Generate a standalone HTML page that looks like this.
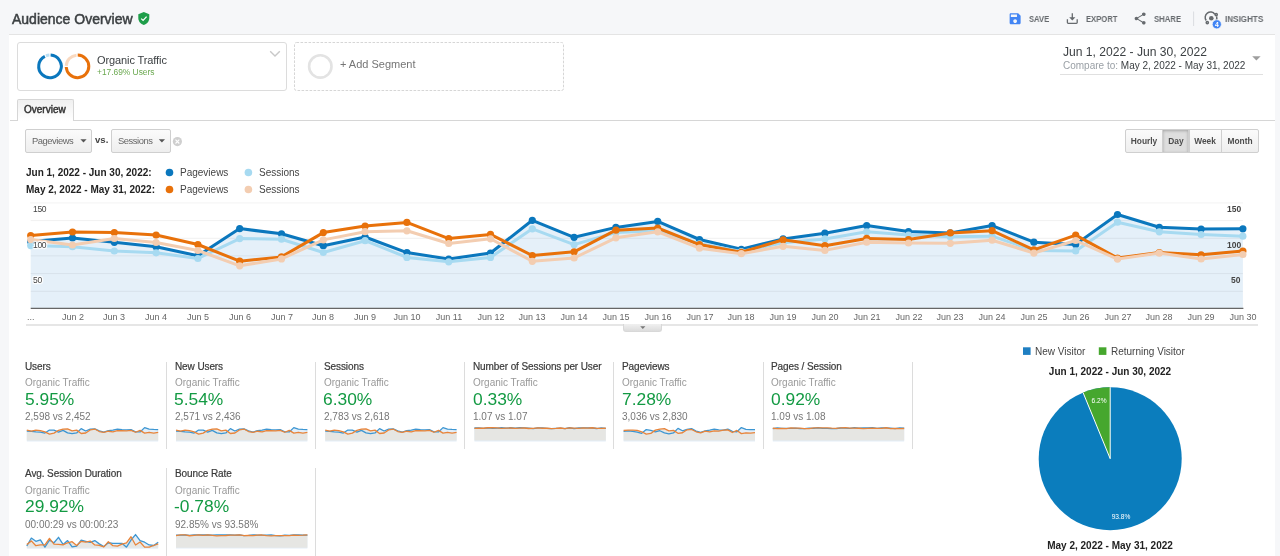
<!DOCTYPE html>
<html><head><meta charset="utf-8"><title>Audience Overview</title>
<style>
*{box-sizing:border-box;margin:0;padding:0}
html,body{width:1280px;height:556px;overflow:hidden;background:#f6f7f9;
 font-family:"Liberation Sans",Arial,Helvetica,sans-serif;}
.t{position:absolute;white-space:nowrap;line-height:1;will-change:transform}
.abs{position:absolute}
svg.full{position:absolute;left:0;top:0}
</style></head><body>
<div class="abs" style="left:9px;top:34px;width:1266px;height:530px;background:#fff;border-top:1px solid #e4e4e4"></div>
<div class="abs" style="left:17px;top:42px;width:270px;height:49px;border:1px solid #dcdcdc;border-radius:3px"></div>
<div class="abs" style="left:9.5px;top:120px;width:1265px;height:1px;background:#d6d6d6"></div>
<div class="abs" style="left:17px;top:99px;width:57px;height:22px;border:1px solid #d6d6d6;border-bottom:none;border-radius:2px 2px 0 0;background:linear-gradient(#f0f0f0,#fff)"></div>
<div style="position:absolute;top:129.4px;height:23.2px;border:1px solid #cfcfcf;border-radius:2px;background:linear-gradient(#fbfbfb,#eeeeee);left:25.3px;width:66.4px"></div>
<div style="position:absolute;top:129.4px;height:23.2px;border:1px solid #cfcfcf;border-radius:2px;background:linear-gradient(#fbfbfb,#eeeeee);left:111.4px;width:59.3px"></div>
<div style="position:absolute;top:129.4px;height:23.2px;border:1px solid #cfcfcf;background:linear-gradient(#fbfbfb,#eeeeee);left:1125px;width:37.5px;border-radius:2px 0 0 2px"></div>
<div style="position:absolute;top:129.4px;height:23.2px;border:1px solid #cfcfcf;background:linear-gradient(#fbfbfb,#eeeeee);left:1161.8px;width:27.3px;background:#dedede;box-shadow:inset 0 1px 3px rgba(0,0,0,.25)"></div>
<div style="position:absolute;top:129.4px;height:23.2px;border:1px solid #cfcfcf;background:linear-gradient(#fbfbfb,#eeeeee);left:1188.6px;width:33px"></div>
<div style="position:absolute;top:129.4px;height:23.2px;border:1px solid #cfcfcf;background:linear-gradient(#fbfbfb,#eeeeee);left:1221.2px;width:37.4px;border-radius:0 2px 2px 0"></div>
<div class="abs" style="left:26px;top:324px;width:1232px;height:1.5px;background:#e6e6e6"></div>
<div class="abs" style="left:623.2px;top:324.3px;width:38.8px;height:7.6px;border-radius:0 0 3px 3px;background:linear-gradient(#f0f0f0,#dcdcdc);border:1px solid #d8d8d8;border-top:none"></div>
<div class="abs" style="left:165.8px;top:361.7px;width:1px;height:87px;background:#dcdcdc"></div>
<div class="abs" style="left:315.0px;top:361.7px;width:1px;height:87px;background:#dcdcdc"></div>
<div class="abs" style="left:464.2px;top:361.7px;width:1px;height:87px;background:#dcdcdc"></div>
<div class="abs" style="left:613.4px;top:361.7px;width:1px;height:87px;background:#dcdcdc"></div>
<div class="abs" style="left:762.6px;top:361.7px;width:1px;height:87px;background:#dcdcdc"></div>
<div class="abs" style="left:911.8px;top:361.7px;width:1px;height:87px;background:#dcdcdc"></div>
<div class="abs" style="left:165.8px;top:467.8px;width:1px;height:90px;background:#dcdcdc"></div>
<div class="abs" style="left:315.0px;top:467.8px;width:1px;height:90px;background:#dcdcdc"></div>
<svg class="full" width="1280" height="556" viewBox="0 0 1280 556">
<g transform="translate(138.3,12)"><path d="M5.5,0 L11,2.2 V6 C11,9.3 8.6,12.1 5.5,13 C2.4,12.1 0,9.3 0,6 V2.2 Z" fill="#1e9e4a"/><path d="M2.9,6.6 L4.8,8.4 L8.3,4.6" fill="none" stroke="#fff" stroke-width="1.3"/></g>
<g transform="translate(1007.8,11.4) scale(0.611)"><path d="M17 3H5c-1.11 0-2 .9-2 2v14c0 1.1.89 2 2 2h14c1.1 0 2-.9 2-2V7l-4-4zm-5 16c-1.66 0-3-1.34-3-3s1.34-3 3-3 3 1.34 3 3-1.34 3-3 3zm3-10H5V5h10v4z" fill="#4285f4"/></g>
<g fill="none" stroke="#666a6e" stroke-width="1.3"><path d="M1072.3,13.3V18.2"/><path d="M1067.4,19.2V22.5Q1067.4,23.3 1068.2,23.3H1076.4Q1077.2,23.3 1077.2,22.5V19.2"/></g><path d="M1069.2,17.2H1075.4L1072.3,20.6Z" fill="#666a6e"/>
<g transform="translate(1132.8,11.2) scale(0.611)"><path d="M18 16.08c-.76 0-1.44.3-1.96.77L8.91 12.7c.05-.23.09-.46.09-.7s-.04-.47-.09-.7l7.05-4.11c.54.5 1.25.81 2.04.81 1.66 0 3-1.340 3-3s-1.34-3-3-3-3 1.34-3 3c0 .24.04.47.09.7L8.040 9.81C7.5 9.31 6.79 9 6 9c-1.66 0-3 1.34-3 3s1.34 3 3 3c.79 0 1.5-.31 2.04-.81l7.12 4.16c-.05.21-.08.43-.08.65 0 1.61 1.31 2.92 2.92 2.92 1.61 0 2.92-1.31 2.92-2.92s-1.31-2.92-2.92-2.92z" fill="#666a6e"/></g>
<path d="M1193.6,11.5V26" stroke="#dadce0" stroke-width="1"/>
<g fill="none" stroke="#666a6e" stroke-width="1.5"><path d="M1206.2,20.5 A5.3,5.3 0 0 1 1214.8,14.2"/><path d="M1216.6,16.4 A5.3,5.3 0 0 1 1213.5,22.6"/><circle cx="1216.2" cy="14.6" r="1.1"/><circle cx="1207.3" cy="22.6" r="1.1"/></g><circle cx="1211.3" cy="18.3" r="2.3" fill="#666a6e"/><circle cx="1216.8" cy="24.3" r="4.6" fill="#4285f4" stroke="#f6f7f9" stroke-width="0.8"/>
<path d="M50.60,55.12 A11.3,11.3 0 1 1 44.86,56.34" fill="none" stroke="#0a77bd" stroke-width="3"/><path d="M45.96,55.85 A11.3,11.3 0 0 1 49.40,55.12" fill="none" stroke="#b9def3" stroke-width="3"/>
<path d="M77.71,55.10 A11.3,11.3 0 1 1 66.22,67.00" fill="none" stroke="#e8710a" stroke-width="3"/><path d="M66.22,65.80 A11.3,11.3 0 0 1 76.51,55.14" fill="none" stroke="#f9d9c0" stroke-width="3"/>
<path d="M270.2,51.2 L275,56 L279.8,51.2" fill="none" stroke="#c8c8c8" stroke-width="1.4"/>
<rect x="294.5" y="42.5" width="269" height="48" rx="2" fill="none" stroke="#d6d6d6" stroke-width="1" stroke-dasharray="2.6 1.4"/>
<circle cx="320.3" cy="66.4" r="11.2" fill="none" stroke="#e3e3e3" stroke-width="2.6"/>
<path d="M1060,74.5H1263" stroke="#e0e0e0" stroke-width="1"/>
<path d="M1252.2,56.3H1260.6L1256.4,60.5Z" fill="#9e9e9e"/>
<path d="M80.4,139.2H86.6L83.5,142.6Z" fill="#555"/>
<path d="M158.8,139.2H165L161.9,142.6Z" fill="#555"/>
<circle cx="177.4" cy="141.6" r="4.6" fill="#cfcfcf"/><path d="M175.5,139.7L179.3,143.5M179.3,139.7L175.5,143.5" stroke="#fff" stroke-width="1.1"/>
<circle cx="169.5" cy="172.5" r="3.8" fill="#0a77bd"/><circle cx="248.4" cy="172.5" r="3.8" fill="#a7daf1"/>
<circle cx="169.5" cy="189.5" r="3.8" fill="#e8710a"/><circle cx="248.4" cy="189.5" r="3.8" fill="#f3cdb1"/>
<path d="M30.2,202.9H1243" stroke="#f3f3f3" stroke-width="1"/>
<polygon points="30.7,308 30.70,241.50 72.50,238.00 114.30,242.30 156.10,246.70 197.90,255.80 239.70,228.60 281.50,233.80 323.30,245.70 365.10,237.00 406.90,252.60 448.70,259.00 490.50,253.00 532.30,220.30 574.10,237.30 615.90,227.40 657.70,221.40 699.50,239.50 741.30,249.30 783.10,238.90 824.90,233.20 866.70,225.60 908.50,231.50 950.30,232.90 992.10,225.60 1033.90,242.20 1075.70,244.40 1117.50,214.50 1159.30,227.30 1201.10,229.00 1242.90,228.80 1242.9,308" fill="#e5f0f9"/>
<path d="M30.7,220.6H1242.9" stroke="#000" stroke-opacity="0.06" stroke-width="1"/>
<path d="M30.7,238.3H1242.9" stroke="#000" stroke-opacity="0.06" stroke-width="1"/>
<path d="M30.7,255.9H1242.9" stroke="#000" stroke-opacity="0.06" stroke-width="1"/>
<path d="M30.7,273.6H1242.9" stroke="#000" stroke-opacity="0.06" stroke-width="1"/>
<path d="M30.7,291.3H1242.9" stroke="#000" stroke-opacity="0.06" stroke-width="1"/>
<path d="M30.7,308.4H1243.4" stroke="#666" stroke-width="1.3"/>
<polyline points="30.70,241.50 72.50,238.00 114.30,242.30 156.10,246.70 197.90,255.80 239.70,228.60 281.50,233.80 323.30,245.70 365.10,237.00 406.90,252.60 448.70,259.00 490.50,253.00 532.30,220.30 574.10,237.30 615.90,227.40 657.70,221.40 699.50,239.50 741.30,249.30 783.10,238.90 824.90,233.20 866.70,225.60 908.50,231.50 950.30,232.90 992.10,225.60 1033.90,242.20 1075.70,244.40 1117.50,214.50 1159.30,227.30 1201.10,229.00 1242.90,228.80" fill="none" stroke="#0a77bd" stroke-width="3" stroke-linejoin="round"/>
<circle cx="30.7" cy="241.5" r="3.6" fill="#0a77bd"/>
<circle cx="72.5" cy="238.0" r="3.6" fill="#0a77bd"/>
<circle cx="114.3" cy="242.3" r="3.6" fill="#0a77bd"/>
<circle cx="156.1" cy="246.7" r="3.6" fill="#0a77bd"/>
<circle cx="197.9" cy="255.8" r="3.6" fill="#0a77bd"/>
<circle cx="239.7" cy="228.6" r="3.6" fill="#0a77bd"/>
<circle cx="281.5" cy="233.8" r="3.6" fill="#0a77bd"/>
<circle cx="323.3" cy="245.7" r="3.6" fill="#0a77bd"/>
<circle cx="365.1" cy="237.0" r="3.6" fill="#0a77bd"/>
<circle cx="406.9" cy="252.6" r="3.6" fill="#0a77bd"/>
<circle cx="448.7" cy="259.0" r="3.6" fill="#0a77bd"/>
<circle cx="490.5" cy="253.0" r="3.6" fill="#0a77bd"/>
<circle cx="532.3" cy="220.3" r="3.6" fill="#0a77bd"/>
<circle cx="574.1" cy="237.3" r="3.6" fill="#0a77bd"/>
<circle cx="615.9" cy="227.4" r="3.6" fill="#0a77bd"/>
<circle cx="657.7" cy="221.4" r="3.6" fill="#0a77bd"/>
<circle cx="699.5" cy="239.5" r="3.6" fill="#0a77bd"/>
<circle cx="741.3" cy="249.3" r="3.6" fill="#0a77bd"/>
<circle cx="783.1" cy="238.9" r="3.6" fill="#0a77bd"/>
<circle cx="824.9" cy="233.2" r="3.6" fill="#0a77bd"/>
<circle cx="866.7" cy="225.6" r="3.6" fill="#0a77bd"/>
<circle cx="908.5" cy="231.5" r="3.6" fill="#0a77bd"/>
<circle cx="950.3" cy="232.9" r="3.6" fill="#0a77bd"/>
<circle cx="992.1" cy="225.6" r="3.6" fill="#0a77bd"/>
<circle cx="1033.9" cy="242.2" r="3.6" fill="#0a77bd"/>
<circle cx="1075.7" cy="244.4" r="3.6" fill="#0a77bd"/>
<circle cx="1117.5" cy="214.5" r="3.6" fill="#0a77bd"/>
<circle cx="1159.3" cy="227.3" r="3.6" fill="#0a77bd"/>
<circle cx="1201.1" cy="229.0" r="3.6" fill="#0a77bd"/>
<circle cx="1242.9" cy="228.8" r="3.6" fill="#0a77bd"/>
<polyline points="30.70,245.60 72.50,246.70 114.30,251.00 156.10,252.80 197.90,258.50 239.70,238.60 281.50,239.20 323.30,252.50 365.10,240.70 406.90,257.40 448.70,261.80 490.50,257.40 532.30,228.80 574.10,244.60 615.90,232.50 657.70,230.70 699.50,243.80 741.30,251.50 783.10,242.70 824.90,238.90 866.70,231.80 908.50,235.00 950.30,236.70 992.10,236.20 1033.90,250.40 1075.70,250.90 1117.50,222.20 1159.30,231.80 1201.10,234.50 1242.90,236.20" fill="none" stroke="#a7daf1" stroke-width="3" stroke-linejoin="round"/>
<circle cx="30.7" cy="245.6" r="3.6" fill="#a7daf1"/>
<circle cx="72.5" cy="246.7" r="3.6" fill="#a7daf1"/>
<circle cx="114.3" cy="251.0" r="3.6" fill="#a7daf1"/>
<circle cx="156.1" cy="252.8" r="3.6" fill="#a7daf1"/>
<circle cx="197.9" cy="258.5" r="3.6" fill="#a7daf1"/>
<circle cx="239.7" cy="238.6" r="3.6" fill="#a7daf1"/>
<circle cx="281.5" cy="239.2" r="3.6" fill="#a7daf1"/>
<circle cx="323.3" cy="252.5" r="3.6" fill="#a7daf1"/>
<circle cx="365.1" cy="240.7" r="3.6" fill="#a7daf1"/>
<circle cx="406.9" cy="257.4" r="3.6" fill="#a7daf1"/>
<circle cx="448.7" cy="261.8" r="3.6" fill="#a7daf1"/>
<circle cx="490.5" cy="257.4" r="3.6" fill="#a7daf1"/>
<circle cx="532.3" cy="228.8" r="3.6" fill="#a7daf1"/>
<circle cx="574.1" cy="244.6" r="3.6" fill="#a7daf1"/>
<circle cx="615.9" cy="232.5" r="3.6" fill="#a7daf1"/>
<circle cx="657.7" cy="230.7" r="3.6" fill="#a7daf1"/>
<circle cx="699.5" cy="243.8" r="3.6" fill="#a7daf1"/>
<circle cx="741.3" cy="251.5" r="3.6" fill="#a7daf1"/>
<circle cx="783.1" cy="242.7" r="3.6" fill="#a7daf1"/>
<circle cx="824.9" cy="238.9" r="3.6" fill="#a7daf1"/>
<circle cx="866.7" cy="231.8" r="3.6" fill="#a7daf1"/>
<circle cx="908.5" cy="235.0" r="3.6" fill="#a7daf1"/>
<circle cx="950.3" cy="236.7" r="3.6" fill="#a7daf1"/>
<circle cx="992.1" cy="236.2" r="3.6" fill="#a7daf1"/>
<circle cx="1033.9" cy="250.4" r="3.6" fill="#a7daf1"/>
<circle cx="1075.7" cy="250.9" r="3.6" fill="#a7daf1"/>
<circle cx="1117.5" cy="222.2" r="3.6" fill="#a7daf1"/>
<circle cx="1159.3" cy="231.8" r="3.6" fill="#a7daf1"/>
<circle cx="1201.1" cy="234.5" r="3.6" fill="#a7daf1"/>
<circle cx="1242.9" cy="236.2" r="3.6" fill="#a7daf1"/>
<polyline points="30.70,235.60 72.50,232.00 114.30,232.50 156.10,235.00 197.90,244.50 239.70,261.20 281.50,256.90 323.30,232.60 365.10,226.00 406.90,222.40 448.70,238.60 490.50,234.40 532.30,255.50 574.10,251.80 615.90,230.20 657.70,228.00 699.50,244.60 741.30,252.30 783.10,239.80 824.90,245.70 866.70,238.40 908.50,239.50 950.30,232.90 992.10,230.70 1033.90,249.80 1075.70,235.10 1117.50,258.00 1159.30,252.50 1201.10,254.80 1242.90,251.00" fill="none" stroke="#e8710a" stroke-width="3" stroke-linejoin="round"/>
<circle cx="30.7" cy="235.6" r="3.6" fill="#e8710a"/>
<circle cx="72.5" cy="232.0" r="3.6" fill="#e8710a"/>
<circle cx="114.3" cy="232.5" r="3.6" fill="#e8710a"/>
<circle cx="156.1" cy="235.0" r="3.6" fill="#e8710a"/>
<circle cx="197.9" cy="244.5" r="3.6" fill="#e8710a"/>
<circle cx="239.7" cy="261.2" r="3.6" fill="#e8710a"/>
<circle cx="281.5" cy="256.9" r="3.6" fill="#e8710a"/>
<circle cx="323.3" cy="232.6" r="3.6" fill="#e8710a"/>
<circle cx="365.1" cy="226.0" r="3.6" fill="#e8710a"/>
<circle cx="406.9" cy="222.4" r="3.6" fill="#e8710a"/>
<circle cx="448.7" cy="238.6" r="3.6" fill="#e8710a"/>
<circle cx="490.5" cy="234.4" r="3.6" fill="#e8710a"/>
<circle cx="532.3" cy="255.5" r="3.6" fill="#e8710a"/>
<circle cx="574.1" cy="251.8" r="3.6" fill="#e8710a"/>
<circle cx="615.9" cy="230.2" r="3.6" fill="#e8710a"/>
<circle cx="657.7" cy="228.0" r="3.6" fill="#e8710a"/>
<circle cx="699.5" cy="244.6" r="3.6" fill="#e8710a"/>
<circle cx="741.3" cy="252.3" r="3.6" fill="#e8710a"/>
<circle cx="783.1" cy="239.8" r="3.6" fill="#e8710a"/>
<circle cx="824.9" cy="245.7" r="3.6" fill="#e8710a"/>
<circle cx="866.7" cy="238.4" r="3.6" fill="#e8710a"/>
<circle cx="908.5" cy="239.5" r="3.6" fill="#e8710a"/>
<circle cx="950.3" cy="232.9" r="3.6" fill="#e8710a"/>
<circle cx="992.1" cy="230.7" r="3.6" fill="#e8710a"/>
<circle cx="1033.9" cy="249.8" r="3.6" fill="#e8710a"/>
<circle cx="1075.7" cy="235.1" r="3.6" fill="#e8710a"/>
<circle cx="1117.5" cy="258.0" r="3.6" fill="#e8710a"/>
<circle cx="1159.3" cy="252.5" r="3.6" fill="#e8710a"/>
<circle cx="1201.1" cy="254.8" r="3.6" fill="#e8710a"/>
<circle cx="1242.9" cy="251.0" r="3.6" fill="#e8710a"/>
<polyline points="30.70,239.60 72.50,245.00 114.30,238.50 156.10,242.50 197.90,250.50 239.70,265.80 281.50,258.90 323.30,239.90 365.10,231.70 406.90,230.80 448.70,243.50 490.50,238.80 532.30,261.30 574.10,258.00 615.90,237.80 657.70,231.80 699.50,248.20 741.30,253.70 783.10,246.30 824.90,250.40 866.70,242.20 908.50,243.00 950.30,243.30 992.10,240.20 1033.90,253.10 1075.70,240.50 1117.50,259.10 1159.30,253.10 1201.10,259.00 1242.90,254.50" fill="none" stroke="#f3cdb1" stroke-width="3" stroke-linejoin="round"/>
<circle cx="30.7" cy="239.6" r="3.6" fill="#f3cdb1"/>
<circle cx="72.5" cy="245.0" r="3.6" fill="#f3cdb1"/>
<circle cx="114.3" cy="238.5" r="3.6" fill="#f3cdb1"/>
<circle cx="156.1" cy="242.5" r="3.6" fill="#f3cdb1"/>
<circle cx="197.9" cy="250.5" r="3.6" fill="#f3cdb1"/>
<circle cx="239.7" cy="265.8" r="3.6" fill="#f3cdb1"/>
<circle cx="281.5" cy="258.9" r="3.6" fill="#f3cdb1"/>
<circle cx="323.3" cy="239.9" r="3.6" fill="#f3cdb1"/>
<circle cx="365.1" cy="231.7" r="3.6" fill="#f3cdb1"/>
<circle cx="406.9" cy="230.8" r="3.6" fill="#f3cdb1"/>
<circle cx="448.7" cy="243.5" r="3.6" fill="#f3cdb1"/>
<circle cx="490.5" cy="238.8" r="3.6" fill="#f3cdb1"/>
<circle cx="532.3" cy="261.3" r="3.6" fill="#f3cdb1"/>
<circle cx="574.1" cy="258.0" r="3.6" fill="#f3cdb1"/>
<circle cx="615.9" cy="237.8" r="3.6" fill="#f3cdb1"/>
<circle cx="657.7" cy="231.8" r="3.6" fill="#f3cdb1"/>
<circle cx="699.5" cy="248.2" r="3.6" fill="#f3cdb1"/>
<circle cx="741.3" cy="253.7" r="3.6" fill="#f3cdb1"/>
<circle cx="783.1" cy="246.3" r="3.6" fill="#f3cdb1"/>
<circle cx="824.9" cy="250.4" r="3.6" fill="#f3cdb1"/>
<circle cx="866.7" cy="242.2" r="3.6" fill="#f3cdb1"/>
<circle cx="908.5" cy="243.0" r="3.6" fill="#f3cdb1"/>
<circle cx="950.3" cy="243.3" r="3.6" fill="#f3cdb1"/>
<circle cx="992.1" cy="240.2" r="3.6" fill="#f3cdb1"/>
<circle cx="1033.9" cy="253.1" r="3.6" fill="#f3cdb1"/>
<circle cx="1075.7" cy="240.5" r="3.6" fill="#f3cdb1"/>
<circle cx="1117.5" cy="259.1" r="3.6" fill="#f3cdb1"/>
<circle cx="1159.3" cy="253.1" r="3.6" fill="#f3cdb1"/>
<circle cx="1201.1" cy="259.0" r="3.6" fill="#f3cdb1"/>
<circle cx="1242.9" cy="254.5" r="3.6" fill="#f3cdb1"/>
<path d="M640.2,326.2H645.4L642.8,329Z" fill="#777"/>
<polygon points="26.80,441.50 26.80,431.13 31.33,431.30 35.86,431.95 40.39,432.22 44.92,433.08 49.46,430.08 53.99,430.17 58.52,432.17 63.05,430.39 67.58,432.91 72.11,433.58 76.64,432.91 81.17,428.60 85.70,430.98 90.23,429.16 94.77,428.88 99.30,430.86 103.83,432.02 108.36,430.70 112.89,430.12 117.42,429.05 121.95,429.53 126.48,429.79 131.01,429.71 135.54,431.86 140.08,431.93 144.61,427.60 149.14,429.05 153.67,429.46 158.20,429.71 158.20,441.50" fill="#e3eef8"/>
<polygon points="26.80,440.60 26.80,430.23 31.33,431.04 35.86,430.06 40.39,430.67 44.92,431.87 49.46,434.18 53.99,433.14 58.52,430.27 63.05,429.03 67.58,428.90 72.11,430.82 76.64,430.11 81.17,433.50 85.70,433.01 90.23,429.96 94.77,429.05 99.30,431.53 103.83,432.36 108.36,431.24 112.89,431.86 117.42,430.62 121.95,430.74 126.48,430.79 131.01,430.32 135.54,432.27 140.08,430.36 144.61,433.17 149.14,432.27 153.67,433.16 158.20,432.48 158.20,440.60" fill="#e6e6e3"/>
<polyline points="26.80,431.13 31.33,431.30 35.86,431.95 40.39,432.22 44.92,433.08 49.46,430.08 53.99,430.17 58.52,432.17 63.05,430.39 67.58,432.91 72.11,433.58 76.64,432.91 81.17,428.60 85.70,430.98 90.23,429.16 94.77,428.88 99.30,430.86 103.83,432.02 108.36,430.70 112.89,430.12 117.42,429.05 121.95,429.53 126.48,429.79 131.01,429.71 135.54,431.86 140.08,431.93 144.61,427.60 149.14,429.05 153.67,429.46 158.20,429.71" fill="none" stroke="#3d96d2" stroke-width="1.3" stroke-linejoin="round"/>
<polyline points="26.80,430.23 31.33,431.04 35.86,430.06 40.39,430.67 44.92,431.87 49.46,434.18 53.99,433.14 58.52,430.27 63.05,429.03 67.58,428.90 72.11,430.82 76.64,430.11 81.17,433.50 85.70,433.01 90.23,429.96 94.77,429.05 99.30,431.53 103.83,432.36 108.36,431.24 112.89,431.86 117.42,430.62 121.95,430.74 126.48,430.79 131.01,430.32 135.54,432.27 140.08,430.36 144.61,433.17 149.14,432.27 153.67,433.16 158.20,432.48" fill="none" stroke="#e8843a" stroke-width="1.3" stroke-linejoin="round"/>
<polygon points="176.00,441.50 176.00,431.13 180.53,431.30 185.06,431.95 189.59,432.22 194.12,433.08 198.66,430.08 203.19,430.17 207.72,432.17 212.25,430.39 216.78,432.91 221.31,433.58 225.84,432.91 230.37,428.60 234.90,430.98 239.43,429.16 243.97,428.88 248.50,430.86 253.03,432.02 257.56,430.70 262.09,430.12 266.62,429.05 271.15,429.53 275.68,429.79 280.21,429.71 284.74,431.86 289.28,431.93 293.81,427.60 298.34,429.05 302.87,429.46 307.40,429.71 307.40,441.50" fill="#e3eef8"/>
<polygon points="176.00,440.60 176.00,430.23 180.53,431.04 185.06,430.06 189.59,430.67 194.12,431.87 198.66,434.18 203.19,433.14 207.72,430.27 212.25,429.03 216.78,428.90 221.31,430.82 225.84,430.11 230.37,433.50 234.90,433.01 239.43,429.96 243.97,429.05 248.50,431.53 253.03,432.36 257.56,431.24 262.09,431.86 266.62,430.62 271.15,430.74 275.68,430.79 280.21,430.32 284.74,432.27 289.28,430.36 293.81,433.17 298.34,432.27 302.87,433.16 307.40,432.48 307.40,440.60" fill="#e6e6e3"/>
<polyline points="176.00,431.13 180.53,431.30 185.06,431.95 189.59,432.22 194.12,433.08 198.66,430.08 203.19,430.17 207.72,432.17 212.25,430.39 216.78,432.91 221.31,433.58 225.84,432.91 230.37,428.60 234.90,430.98 239.43,429.16 243.97,428.88 248.50,430.86 253.03,432.02 257.56,430.70 262.09,430.12 266.62,429.05 271.15,429.53 275.68,429.79 280.21,429.71 284.74,431.86 289.28,431.93 293.81,427.60 298.34,429.05 302.87,429.46 307.40,429.71" fill="none" stroke="#3d96d2" stroke-width="1.3" stroke-linejoin="round"/>
<polyline points="176.00,430.23 180.53,431.04 185.06,430.06 189.59,430.67 194.12,431.87 198.66,434.18 203.19,433.14 207.72,430.27 212.25,429.03 216.78,428.90 221.31,430.82 225.84,430.11 230.37,433.50 234.90,433.01 239.43,429.96 243.97,429.05 248.50,431.53 253.03,432.36 257.56,431.24 262.09,431.86 266.62,430.62 271.15,430.74 275.68,430.79 280.21,430.32 284.74,432.27 289.28,430.36 293.81,433.17 298.34,432.27 302.87,433.16 307.40,432.48" fill="none" stroke="#e8843a" stroke-width="1.3" stroke-linejoin="round"/>
<polygon points="325.20,441.50 325.20,431.13 329.73,431.30 334.26,431.95 338.79,432.22 343.32,433.08 347.86,430.08 352.39,430.17 356.92,432.17 361.45,430.39 365.98,432.91 370.51,433.58 375.04,432.91 379.57,428.60 384.10,430.98 388.63,429.16 393.17,428.88 397.70,430.86 402.23,432.02 406.76,430.70 411.29,430.12 415.82,429.05 420.35,429.53 424.88,429.79 429.41,429.71 433.94,431.86 438.48,431.93 443.01,427.60 447.54,429.05 452.07,429.46 456.60,429.71 456.60,441.50" fill="#e3eef8"/>
<polygon points="325.20,440.60 325.20,430.23 329.73,431.04 334.26,430.06 338.79,430.67 343.32,431.87 347.86,434.18 352.39,433.14 356.92,430.27 361.45,429.03 365.98,428.90 370.51,430.82 375.04,430.11 379.57,433.50 384.10,433.01 388.63,429.96 393.17,429.05 397.70,431.53 402.23,432.36 406.76,431.24 411.29,431.86 415.82,430.62 420.35,430.74 424.88,430.79 429.41,430.32 433.94,432.27 438.48,430.36 443.01,433.17 447.54,432.27 452.07,433.16 456.60,432.48 456.60,440.60" fill="#e6e6e3"/>
<polyline points="325.20,431.13 329.73,431.30 334.26,431.95 338.79,432.22 343.32,433.08 347.86,430.08 352.39,430.17 356.92,432.17 361.45,430.39 365.98,432.91 370.51,433.58 375.04,432.91 379.57,428.60 384.10,430.98 388.63,429.16 393.17,428.88 397.70,430.86 402.23,432.02 406.76,430.70 411.29,430.12 415.82,429.05 420.35,429.53 424.88,429.79 429.41,429.71 433.94,431.86 438.48,431.93 443.01,427.60 447.54,429.05 452.07,429.46 456.60,429.71" fill="none" stroke="#3d96d2" stroke-width="1.3" stroke-linejoin="round"/>
<polyline points="325.20,430.23 329.73,431.04 334.26,430.06 338.79,430.67 343.32,431.87 347.86,434.18 352.39,433.14 356.92,430.27 361.45,429.03 365.98,428.90 370.51,430.82 375.04,430.11 379.57,433.50 384.10,433.01 388.63,429.96 393.17,429.05 397.70,431.53 402.23,432.36 406.76,431.24 411.29,431.86 415.82,430.62 420.35,430.74 424.88,430.79 429.41,430.32 433.94,432.27 438.48,430.36 443.01,433.17 447.54,432.27 452.07,433.16 456.60,432.48" fill="none" stroke="#e8843a" stroke-width="1.3" stroke-linejoin="round"/>
<polygon points="474.40,441.50 474.40,428.02 478.93,427.85 483.46,428.35 487.99,427.77 492.52,428.24 497.06,428.07 501.59,427.76 506.12,428.21 510.65,427.74 515.18,428.13 519.71,427.77 524.24,427.79 528.77,428.12 533.30,428.53 537.83,427.82 542.37,427.92 546.90,428.33 551.43,428.65 555.96,428.28 560.49,428.10 565.02,428.68 569.55,427.75 574.08,428.56 578.61,427.99 583.14,427.84 587.68,427.82 592.21,428.01 596.74,428.52 601.27,427.88 605.80,428.28 605.80,441.50" fill="#e3eef8"/>
<polygon points="474.40,440.60 474.40,428.34 478.93,428.07 483.46,428.25 487.99,427.76 492.52,427.76 497.06,427.91 501.59,428.38 506.12,428.13 510.65,428.01 515.18,428.29 519.71,428.15 524.24,428.00 528.77,428.49 533.30,428.40 537.83,427.94 542.37,428.27 546.90,428.23 551.43,428.58 555.96,428.43 560.49,427.99 565.02,428.68 569.55,427.82 574.08,428.12 578.61,428.46 583.14,427.85 587.68,428.19 592.21,427.74 596.74,428.37 601.27,428.46 605.80,428.27 605.80,440.60" fill="#e6e6e3"/>
<polyline points="474.40,428.02 478.93,427.85 483.46,428.35 487.99,427.77 492.52,428.24 497.06,428.07 501.59,427.76 506.12,428.21 510.65,427.74 515.18,428.13 519.71,427.77 524.24,427.79 528.77,428.12 533.30,428.53 537.83,427.82 542.37,427.92 546.90,428.33 551.43,428.65 555.96,428.28 560.49,428.10 565.02,428.68 569.55,427.75 574.08,428.56 578.61,427.99 583.14,427.84 587.68,427.82 592.21,428.01 596.74,428.52 601.27,427.88 605.80,428.28" fill="none" stroke="#3d96d2" stroke-width="1.3" stroke-linejoin="round"/>
<polyline points="474.40,428.34 478.93,428.07 483.46,428.25 487.99,427.76 492.52,427.76 497.06,427.91 501.59,428.38 506.12,428.13 510.65,428.01 515.18,428.29 519.71,428.15 524.24,428.00 528.77,428.49 533.30,428.40 537.83,427.94 542.37,428.27 546.90,428.23 551.43,428.58 555.96,428.43 560.49,427.99 565.02,428.68 569.55,427.82 574.08,428.12 578.61,428.46 583.14,427.85 587.68,428.19 592.21,427.74 596.74,428.37 601.27,428.46 605.80,428.27" fill="none" stroke="#e8843a" stroke-width="1.3" stroke-linejoin="round"/>
<polygon points="623.60,441.50 623.60,431.34 628.13,430.86 632.66,431.45 637.19,432.06 641.72,433.32 646.26,429.55 650.79,430.27 655.32,431.92 659.85,430.72 664.38,432.88 668.91,433.77 673.44,432.94 677.97,428.40 682.50,430.76 687.03,429.39 691.57,428.56 696.10,431.06 700.63,432.42 705.16,430.98 709.69,430.19 714.22,429.14 718.75,429.96 723.28,430.15 727.81,429.14 732.34,431.44 736.88,431.74 741.41,427.60 745.94,429.37 750.47,429.61 755.00,429.58 755.00,441.50" fill="#e3eef8"/>
<polygon points="623.60,440.60 623.60,430.52 628.13,430.03 632.66,430.09 637.19,430.44 641.72,431.76 646.26,434.07 650.79,433.48 655.32,430.11 659.85,429.19 664.38,428.69 668.91,430.94 673.44,430.36 677.97,433.28 682.50,432.77 687.03,429.78 691.57,429.47 696.10,431.77 700.63,432.84 705.16,431.11 709.69,431.92 714.22,430.91 718.75,431.06 723.28,430.15 727.81,429.85 732.34,432.49 736.88,430.46 741.41,433.63 745.94,432.87 750.47,433.19 755.00,432.66 755.00,440.60" fill="#e6e6e3"/>
<polyline points="623.60,431.34 628.13,430.86 632.66,431.45 637.19,432.06 641.72,433.32 646.26,429.55 650.79,430.27 655.32,431.92 659.85,430.72 664.38,432.88 668.91,433.77 673.44,432.94 677.97,428.40 682.50,430.76 687.03,429.39 691.57,428.56 696.10,431.06 700.63,432.42 705.16,430.98 709.69,430.19 714.22,429.14 718.75,429.96 723.28,430.15 727.81,429.14 732.34,431.44 736.88,431.74 741.41,427.60 745.94,429.37 750.47,429.61 755.00,429.58" fill="none" stroke="#3d96d2" stroke-width="1.3" stroke-linejoin="round"/>
<polyline points="623.60,430.52 628.13,430.03 632.66,430.09 637.19,430.44 641.72,431.76 646.26,434.07 650.79,433.48 655.32,430.11 659.85,429.19 664.38,428.69 668.91,430.94 673.44,430.36 677.97,433.28 682.50,432.77 687.03,429.78 691.57,429.47 696.10,431.77 700.63,432.84 705.16,431.11 709.69,431.92 714.22,430.91 718.75,431.06 723.28,430.15 727.81,429.85 732.34,432.49 736.88,430.46 741.41,433.63 745.94,432.87 750.47,433.19 755.00,432.66" fill="none" stroke="#e8843a" stroke-width="1.3" stroke-linejoin="round"/>
<polygon points="772.80,441.50 772.80,428.58 777.33,428.01 781.86,428.40 786.39,428.29 790.92,428.28 795.46,428.16 799.99,428.54 804.52,428.64 809.05,428.17 813.58,428.36 818.11,427.76 822.64,428.40 827.17,428.35 831.70,428.69 836.23,428.52 840.77,427.98 845.30,428.09 849.83,428.37 854.36,427.72 858.89,428.16 863.42,427.87 867.95,427.82 872.48,427.76 877.01,428.47 881.54,427.83 886.08,427.95 890.61,428.09 895.14,428.57 899.67,427.78 904.20,428.15 904.20,441.50" fill="#e3eef8"/>
<polygon points="772.80,440.60 772.80,428.25 777.33,428.58 781.86,428.52 786.39,428.56 790.92,427.98 795.46,428.12 799.99,428.06 804.52,428.58 809.05,428.66 813.58,427.85 818.11,427.88 822.64,427.93 827.17,427.93 831.70,428.18 836.23,428.29 840.77,427.96 845.30,427.70 849.83,428.12 854.36,428.07 858.89,428.27 863.42,428.65 867.95,428.39 872.48,428.22 877.01,428.32 881.54,428.38 886.08,427.75 890.61,428.60 895.14,428.48 899.67,428.57 904.20,428.50 904.20,440.60" fill="#e6e6e3"/>
<polyline points="772.80,428.58 777.33,428.01 781.86,428.40 786.39,428.29 790.92,428.28 795.46,428.16 799.99,428.54 804.52,428.64 809.05,428.17 813.58,428.36 818.11,427.76 822.64,428.40 827.17,428.35 831.70,428.69 836.23,428.52 840.77,427.98 845.30,428.09 849.83,428.37 854.36,427.72 858.89,428.16 863.42,427.87 867.95,427.82 872.48,427.76 877.01,428.47 881.54,427.83 886.08,427.95 890.61,428.09 895.14,428.57 899.67,427.78 904.20,428.15" fill="none" stroke="#3d96d2" stroke-width="1.3" stroke-linejoin="round"/>
<polyline points="772.80,428.25 777.33,428.58 781.86,428.52 786.39,428.56 790.92,427.98 795.46,428.12 799.99,428.06 804.52,428.58 809.05,428.66 813.58,427.85 818.11,427.88 822.64,427.93 827.17,427.93 831.70,428.18 836.23,428.29 840.77,427.96 845.30,427.70 849.83,428.12 854.36,428.07 858.89,428.27 863.42,428.65 867.95,428.39 872.48,428.22 877.01,428.32 881.54,428.38 886.08,427.75 890.61,428.60 895.14,428.48 899.67,428.57 904.20,428.50" fill="none" stroke="#e8843a" stroke-width="1.3" stroke-linejoin="round"/>
<polygon points="26.80,548.70 26.80,546.05 31.33,538.06 35.86,541.34 40.39,539.81 44.92,547.14 49.46,540.25 53.99,542.77 58.52,537.30 63.05,544.41 67.58,540.58 72.11,546.81 76.64,546.05 81.17,540.25 85.70,541.34 90.23,542.44 94.77,540.58 99.30,543.86 103.83,546.59 108.36,542.77 112.89,543.31 117.42,543.31 121.95,543.31 126.48,547.14 131.01,540.03 135.54,534.56 140.08,540.58 144.61,542.22 149.14,544.95 153.67,545.50 158.20,542.22 158.20,548.70" fill="#e3eef8"/>
<polygon points="26.80,547.80 26.80,544.41 31.33,540.91 35.86,545.72 40.39,544.95 44.92,544.95 49.46,538.39 53.99,544.19 58.52,544.41 63.05,544.95 67.58,542.77 72.11,541.67 76.64,545.50 81.17,541.34 85.70,542.22 90.23,541.12 94.77,544.95 99.30,545.28 103.83,546.81 108.36,541.67 112.89,545.72 117.42,546.05 121.95,544.19 126.48,542.77 131.01,536.75 135.54,544.95 140.08,542.00 144.61,547.14 149.14,547.14 153.67,545.50 158.20,543.86 158.20,547.80" fill="#e6e6e3"/>
<polyline points="26.80,546.05 31.33,538.06 35.86,541.34 40.39,539.81 44.92,547.14 49.46,540.25 53.99,542.77 58.52,537.30 63.05,544.41 67.58,540.58 72.11,546.81 76.64,546.05 81.17,540.25 85.70,541.34 90.23,542.44 94.77,540.58 99.30,543.86 103.83,546.59 108.36,542.77 112.89,543.31 117.42,543.31 121.95,543.31 126.48,547.14 131.01,540.03 135.54,534.56 140.08,540.58 144.61,542.22 149.14,544.95 153.67,545.50 158.20,542.22" fill="none" stroke="#3d96d2" stroke-width="1.3" stroke-linejoin="round"/>
<polyline points="26.80,544.41 31.33,540.91 35.86,545.72 40.39,544.95 44.92,544.95 49.46,538.39 53.99,544.19 58.52,544.41 63.05,544.95 67.58,542.77 72.11,541.67 76.64,545.50 81.17,541.34 85.70,542.22 90.23,541.12 94.77,544.95 99.30,545.28 103.83,546.81 108.36,541.67 112.89,545.72 117.42,546.05 121.95,544.19 126.48,542.77 131.01,536.75 135.54,544.95 140.08,542.00 144.61,547.14 149.14,547.14 153.67,545.50 158.20,543.86" fill="none" stroke="#e8843a" stroke-width="1.3" stroke-linejoin="round"/>
<polygon points="176.00,548.60 176.00,535.19 180.53,535.20 185.06,534.90 189.59,535.43 194.12,534.86 198.66,534.87 203.19,535.01 207.72,534.96 212.25,535.14 216.78,534.85 221.31,534.80 225.84,534.95 230.37,534.90 234.90,535.16 239.43,534.83 243.97,535.67 248.50,535.41 253.03,534.95 257.56,535.05 262.09,535.15 266.62,535.16 271.15,534.92 275.68,535.65 280.21,535.79 284.74,535.27 289.28,535.28 293.81,534.89 298.34,534.90 302.87,535.14 307.40,535.06 307.40,548.60" fill="#e3eef8"/>
<polygon points="176.00,547.70 176.00,535.63 180.53,534.96 185.06,534.82 189.59,535.75 194.12,535.33 198.66,534.95 203.19,535.34 207.72,534.83 212.25,535.33 216.78,535.78 221.31,535.66 225.84,535.50 230.37,535.06 234.90,535.17 239.43,534.97 243.97,535.57 248.50,535.33 253.03,535.58 257.56,535.13 262.09,535.02 266.62,535.61 271.15,535.78 275.68,535.65 280.21,535.61 284.74,535.62 289.28,535.54 293.81,535.03 298.34,535.32 302.87,535.16 307.40,534.83 307.40,547.70" fill="#e6e6e3"/>
<polyline points="176.00,535.19 180.53,535.20 185.06,534.90 189.59,535.43 194.12,534.86 198.66,534.87 203.19,535.01 207.72,534.96 212.25,535.14 216.78,534.85 221.31,534.80 225.84,534.95 230.37,534.90 234.90,535.16 239.43,534.83 243.97,535.67 248.50,535.41 253.03,534.95 257.56,535.05 262.09,535.15 266.62,535.16 271.15,534.92 275.68,535.65 280.21,535.79 284.74,535.27 289.28,535.28 293.81,534.89 298.34,534.90 302.87,535.14 307.40,535.06" fill="none" stroke="#3d96d2" stroke-width="1.3" stroke-linejoin="round"/>
<polyline points="176.00,535.63 180.53,534.96 185.06,534.82 189.59,535.75 194.12,535.33 198.66,534.95 203.19,535.34 207.72,534.83 212.25,535.33 216.78,535.78 221.31,535.66 225.84,535.50 230.37,535.06 234.90,535.17 239.43,534.97 243.97,535.57 248.50,535.33 253.03,535.58 257.56,535.13 262.09,535.02 266.62,535.61 271.15,535.78 275.68,535.65 280.21,535.61 284.74,535.62 289.28,535.54 293.81,535.03 298.34,535.32 302.87,535.16 307.40,534.83" fill="none" stroke="#e8843a" stroke-width="1.3" stroke-linejoin="round"/>
<rect x="1023" y="347.3" width="7.6" height="7.6" fill="#1f7fc2"/>
<rect x="1098.8" y="347.3" width="7.6" height="7.6" fill="#46a72e"/>
<circle cx="1110.2" cy="458.7" r="71.5" fill="#0b7dbd"/>
<path d="M1110.2,458.7 L1083.05,392.56 A71.5,71.5 0 0 1 1110.2,387.2 Z" fill="#46a72e"/>
<path d="M1083.05,392.56 L1110.2,458.7 L1110.2,387.2" fill="none" stroke="#fff" stroke-width="1" stroke-linejoin="round"/>
</svg>
<div class="t" id="title" style="left:12.00px;top:12.15px;font-size:14px;color:#3c4043;font-weight:normal;-webkit-text-stroke:0.5px #3c4043">Audience Overview</div>
<div class="t" id="save" style="left:1028.70px;top:15.05px;font-size:8.8px;color:#666a6e;font-weight:bold;transform:scaleX(0.865);transform-origin:0 0">SAVE</div>
<div class="t" id="export" style="left:1085.60px;top:15.05px;font-size:8.8px;color:#666a6e;font-weight:bold;transform:scaleX(0.87);transform-origin:0 0">EXPORT</div>
<div class="t" id="share" style="left:1153.70px;top:15.05px;font-size:8.8px;color:#666a6e;font-weight:bold;transform:scaleX(0.88);transform-origin:0 0">SHARE</div>
<div class="t" style="left:1066.80px;width:300px;text-align:center;top:21.54px;font-size:6.8px;color:#fff;font-weight:bold;">4</div>
<div class="t" id="insights" style="left:1224.80px;top:15.05px;font-size:8.8px;color:#666a6e;font-weight:bold;transform:scaleX(0.92);transform-origin:0 0">INSIGHTS</div>
<div class="t" id="segname" style="left:97.00px;top:54.99px;font-size:11px;color:#3c4043;font-weight:normal;letter-spacing:-0.1px">Organic Traffic</div>
<div class="t" id="segsub" style="left:97.00px;top:67.89px;font-size:8.4px;color:#6aa84f;font-weight:normal;">+17.69% Users</div>
<div class="t" id="addseg" style="left:340.00px;top:59.09px;font-size:11px;color:#757575;font-weight:normal;">+ Add Segment</div>
<div class="t" id="daterange" style="left:1063.30px;top:46.26px;font-size:12.1px;color:#3c4043;font-weight:normal;">Jun 1, 2022 - Jun 30, 2022</div>
<div class="t" id="compare" style="left:1063.30px;top:60.63px;font-size:10px;color:#3c4043;font-weight:normal;"><span style="color:#9aa0a6">Compare to:</span> May 2, 2022 - May 31, 2022</div>
<div class="t" id="tab" style="left:24.40px;top:105.44px;font-size:10px;color:#333;font-weight:normal;-webkit-text-stroke:0.45px #333">Overview</div>
<div class="t" id="dd1" style="left:31.50px;top:135.54px;font-size:9.4px;color:#666;font-weight:normal;letter-spacing:-0.45px">Pageviews</div>
<div class="t" id="dd2" style="left:117.50px;top:135.54px;font-size:9.4px;color:#666;font-weight:normal;letter-spacing:-0.45px">Sessions</div>
<div class="t" id="vs" style="left:95.40px;top:134.77px;font-size:9.6px;color:#444;font-weight:bold;">vs.</div>
<div class="t" id="lg1" style="left:25.70px;top:168.44px;font-size:10px;color:#222;font-weight:bold;">Jun 1, 2022 - Jun 30, 2022:</div>
<div class="t" id="lg2" style="left:25.70px;top:185.34px;font-size:10px;color:#222;font-weight:bold;">May 2, 2022 - May 31, 2022:</div>
<div class="t" style="left:180.20px;top:168.44px;font-size:10px;color:#444;font-weight:normal;">Pageviews</div>
<div class="t" style="left:259.00px;top:168.44px;font-size:10px;color:#444;font-weight:normal;">Sessions</div>
<div class="t" style="left:180.20px;top:185.44px;font-size:10px;color:#444;font-weight:normal;">Pageviews</div>
<div class="t" style="left:259.00px;top:185.44px;font-size:10px;color:#444;font-weight:normal;">Sessions</div>
<div class="t" style="left:993.70px;width:300px;text-align:center;top:137.39px;font-size:8.4px;color:#4d4d4d;font-weight:bold;">Hourly</div>
<div class="t" style="left:1025.50px;width:300px;text-align:center;top:137.39px;font-size:8.4px;color:#4d4d4d;font-weight:bold;">Day</div>
<div class="t" style="left:1055.20px;width:300px;text-align:center;top:137.39px;font-size:8.4px;color:#4d4d4d;font-weight:bold;">Week</div>
<div class="t" style="left:1089.80px;width:300px;text-align:center;top:137.39px;font-size:8.4px;color:#4d4d4d;font-weight:bold;">Month</div>
<div class="t" style="left:32.80px;top:205.20px;font-size:8.5px;color:#444;font-weight:normal;letter-spacing:-0.3px;text-shadow:1px 0 1px #fff,-1px 0 1px #fff,0 1px 1px #fff,0 -1px 1px #fff,1px 1px 1px #fff,-1px -1px 1px #fff,1px -1px 1px #fff,-1px 1px 1px #fff">150</div>
<div class="t" style="right:39.20px;top:205.30px;font-size:8.5px;color:#444;font-weight:bold;">150</div>
<div class="t" style="left:32.80px;top:240.80px;font-size:8.5px;color:#444;font-weight:normal;letter-spacing:-0.3px;text-shadow:1px 0 1px #fff,-1px 0 1px #fff,0 1px 1px #fff,0 -1px 1px #fff,1px 1px 1px #fff,-1px -1px 1px #fff,1px -1px 1px #fff,-1px 1px 1px #fff">100</div>
<div class="t" style="right:39.20px;top:240.90px;font-size:8.5px;color:#444;font-weight:bold;">100</div>
<div class="t" style="left:32.80px;top:275.70px;font-size:8.5px;color:#444;font-weight:normal;letter-spacing:-0.3px;text-shadow:1px 0 1px #fff,-1px 0 1px #fff,0 1px 1px #fff,0 -1px 1px #fff,1px 1px 1px #fff,-1px -1px 1px #fff,1px -1px 1px #fff,-1px 1px 1px #fff">50</div>
<div class="t" style="right:39.20px;top:275.80px;font-size:8.5px;color:#444;font-weight:bold;">50</div>
<div class="t" style="left:26.90px;top:312.88px;font-size:9px;color:#666;font-weight:normal;">...</div>
<div class="t" style="left:-77.50px;width:300px;text-align:center;top:312.88px;font-size:9px;color:#666;font-weight:normal;">Jun 2</div>
<div class="t" style="left:-35.70px;width:300px;text-align:center;top:312.88px;font-size:9px;color:#666;font-weight:normal;">Jun 3</div>
<div class="t" style="left:6.10px;width:300px;text-align:center;top:312.88px;font-size:9px;color:#666;font-weight:normal;">Jun 4</div>
<div class="t" style="left:47.90px;width:300px;text-align:center;top:312.88px;font-size:9px;color:#666;font-weight:normal;">Jun 5</div>
<div class="t" style="left:89.70px;width:300px;text-align:center;top:312.88px;font-size:9px;color:#666;font-weight:normal;">Jun 6</div>
<div class="t" style="left:131.50px;width:300px;text-align:center;top:312.88px;font-size:9px;color:#666;font-weight:normal;">Jun 7</div>
<div class="t" style="left:173.30px;width:300px;text-align:center;top:312.88px;font-size:9px;color:#666;font-weight:normal;">Jun 8</div>
<div class="t" style="left:215.10px;width:300px;text-align:center;top:312.88px;font-size:9px;color:#666;font-weight:normal;">Jun 9</div>
<div class="t" style="left:256.90px;width:300px;text-align:center;top:312.88px;font-size:9px;color:#666;font-weight:normal;">Jun 10</div>
<div class="t" style="left:298.70px;width:300px;text-align:center;top:312.88px;font-size:9px;color:#666;font-weight:normal;">Jun 11</div>
<div class="t" style="left:340.50px;width:300px;text-align:center;top:312.88px;font-size:9px;color:#666;font-weight:normal;">Jun 12</div>
<div class="t" style="left:382.30px;width:300px;text-align:center;top:312.88px;font-size:9px;color:#666;font-weight:normal;">Jun 13</div>
<div class="t" style="left:424.10px;width:300px;text-align:center;top:312.88px;font-size:9px;color:#666;font-weight:normal;">Jun 14</div>
<div class="t" style="left:465.90px;width:300px;text-align:center;top:312.88px;font-size:9px;color:#666;font-weight:normal;">Jun 15</div>
<div class="t" style="left:507.70px;width:300px;text-align:center;top:312.88px;font-size:9px;color:#666;font-weight:normal;">Jun 16</div>
<div class="t" style="left:549.50px;width:300px;text-align:center;top:312.88px;font-size:9px;color:#666;font-weight:normal;">Jun 17</div>
<div class="t" style="left:591.30px;width:300px;text-align:center;top:312.88px;font-size:9px;color:#666;font-weight:normal;">Jun 18</div>
<div class="t" style="left:633.10px;width:300px;text-align:center;top:312.88px;font-size:9px;color:#666;font-weight:normal;">Jun 19</div>
<div class="t" style="left:674.90px;width:300px;text-align:center;top:312.88px;font-size:9px;color:#666;font-weight:normal;">Jun 20</div>
<div class="t" style="left:716.70px;width:300px;text-align:center;top:312.88px;font-size:9px;color:#666;font-weight:normal;">Jun 21</div>
<div class="t" style="left:758.50px;width:300px;text-align:center;top:312.88px;font-size:9px;color:#666;font-weight:normal;">Jun 22</div>
<div class="t" style="left:800.30px;width:300px;text-align:center;top:312.88px;font-size:9px;color:#666;font-weight:normal;">Jun 23</div>
<div class="t" style="left:842.10px;width:300px;text-align:center;top:312.88px;font-size:9px;color:#666;font-weight:normal;">Jun 24</div>
<div class="t" style="left:883.90px;width:300px;text-align:center;top:312.88px;font-size:9px;color:#666;font-weight:normal;">Jun 25</div>
<div class="t" style="left:925.70px;width:300px;text-align:center;top:312.88px;font-size:9px;color:#666;font-weight:normal;">Jun 26</div>
<div class="t" style="left:967.50px;width:300px;text-align:center;top:312.88px;font-size:9px;color:#666;font-weight:normal;">Jun 27</div>
<div class="t" style="left:1009.30px;width:300px;text-align:center;top:312.88px;font-size:9px;color:#666;font-weight:normal;">Jun 28</div>
<div class="t" style="left:1051.10px;width:300px;text-align:center;top:312.88px;font-size:9px;color:#666;font-weight:normal;">Jun 29</div>
<div class="t" style="left:1092.90px;width:300px;text-align:center;top:312.88px;font-size:9px;color:#666;font-weight:normal;">Jun 30</div>
<div class="t" style="left:25.30px;top:361.94px;font-size:10px;color:#3a3a3a;font-weight:normal;letter-spacing:-0.1px;-webkit-text-stroke:0.2px #3a3a3a">Users</div>
<div class="t" style="left:25.30px;top:378.44px;font-size:10px;color:#999;font-weight:normal;">Organic Traffic</div>
<div class="t" style="left:25.00px;top:390.77px;font-size:17.4px;color:#1a9641;font-weight:normal;color:#139a43">5.95%</div>
<div class="t" style="left:25.30px;top:412.44px;font-size:10px;color:#777;font-weight:normal;">2,598 vs 2,452</div>
<div class="t" style="left:174.50px;top:361.94px;font-size:10px;color:#3a3a3a;font-weight:normal;letter-spacing:-0.1px;-webkit-text-stroke:0.2px #3a3a3a">New Users</div>
<div class="t" style="left:174.50px;top:378.44px;font-size:10px;color:#999;font-weight:normal;">Organic Traffic</div>
<div class="t" style="left:174.20px;top:390.77px;font-size:17.4px;color:#1a9641;font-weight:normal;color:#139a43">5.54%</div>
<div class="t" style="left:174.50px;top:412.44px;font-size:10px;color:#777;font-weight:normal;">2,571 vs 2,436</div>
<div class="t" style="left:323.70px;top:361.94px;font-size:10px;color:#3a3a3a;font-weight:normal;letter-spacing:-0.1px;-webkit-text-stroke:0.2px #3a3a3a">Sessions</div>
<div class="t" style="left:323.70px;top:378.44px;font-size:10px;color:#999;font-weight:normal;">Organic Traffic</div>
<div class="t" style="left:323.40px;top:390.77px;font-size:17.4px;color:#1a9641;font-weight:normal;color:#139a43">6.30%</div>
<div class="t" style="left:323.70px;top:412.44px;font-size:10px;color:#777;font-weight:normal;">2,783 vs 2,618</div>
<div class="t" style="left:472.90px;top:361.94px;font-size:10px;color:#3a3a3a;font-weight:normal;letter-spacing:-0.1px;-webkit-text-stroke:0.2px #3a3a3a">Number of Sessions per User</div>
<div class="t" style="left:472.90px;top:378.44px;font-size:10px;color:#999;font-weight:normal;">Organic Traffic</div>
<div class="t" style="left:472.60px;top:390.77px;font-size:17.4px;color:#1a9641;font-weight:normal;color:#139a43">0.33%</div>
<div class="t" style="left:472.90px;top:412.44px;font-size:10px;color:#777;font-weight:normal;">1.07 vs 1.07</div>
<div class="t" style="left:622.10px;top:361.94px;font-size:10px;color:#3a3a3a;font-weight:normal;letter-spacing:-0.1px;-webkit-text-stroke:0.2px #3a3a3a">Pageviews</div>
<div class="t" style="left:622.10px;top:378.44px;font-size:10px;color:#999;font-weight:normal;">Organic Traffic</div>
<div class="t" style="left:621.80px;top:390.77px;font-size:17.4px;color:#1a9641;font-weight:normal;color:#139a43">7.28%</div>
<div class="t" style="left:622.10px;top:412.44px;font-size:10px;color:#777;font-weight:normal;">3,036 vs 2,830</div>
<div class="t" style="left:771.30px;top:361.94px;font-size:10px;color:#3a3a3a;font-weight:normal;letter-spacing:-0.1px;-webkit-text-stroke:0.2px #3a3a3a">Pages / Session</div>
<div class="t" style="left:771.30px;top:378.44px;font-size:10px;color:#999;font-weight:normal;">Organic Traffic</div>
<div class="t" style="left:771.00px;top:390.77px;font-size:17.4px;color:#1a9641;font-weight:normal;color:#139a43">0.92%</div>
<div class="t" style="left:771.30px;top:412.44px;font-size:10px;color:#777;font-weight:normal;">1.09 vs 1.08</div>
<div class="t" style="left:25.30px;top:469.04px;font-size:10px;color:#3a3a3a;font-weight:normal;letter-spacing:-0.1px;-webkit-text-stroke:0.2px #3a3a3a">Avg. Session Duration</div>
<div class="t" style="left:25.30px;top:485.54px;font-size:10px;color:#999;font-weight:normal;">Organic Traffic</div>
<div class="t" style="left:25.00px;top:497.87px;font-size:17.4px;color:#1a9641;font-weight:normal;color:#139a43">29.92%</div>
<div class="t" style="left:25.30px;top:519.53px;font-size:10px;color:#777;font-weight:normal;">00:00:29 vs 00:00:23</div>
<div class="t" style="left:174.50px;top:469.04px;font-size:10px;color:#3a3a3a;font-weight:normal;letter-spacing:-0.1px;-webkit-text-stroke:0.2px #3a3a3a">Bounce Rate</div>
<div class="t" style="left:174.50px;top:485.54px;font-size:10px;color:#999;font-weight:normal;">Organic Traffic</div>
<div class="t" style="left:174.20px;top:497.87px;font-size:17.4px;color:#1a9641;font-weight:normal;color:#139a43">-0.78%</div>
<div class="t" style="left:174.50px;top:519.53px;font-size:10px;color:#777;font-weight:normal;">92.85% vs 93.58%</div>
<div class="t" style="left:1035.00px;top:346.94px;font-size:10px;color:#444;font-weight:normal;">New Visitor</div>
<div class="t" style="left:1111.00px;top:346.94px;font-size:10px;color:#444;font-weight:normal;">Returning Visitor</div>
<div class="t" style="left:960.40px;width:300px;text-align:center;top:366.74px;font-size:10px;color:#222;font-weight:bold;">Jun 1, 2022 - Jun 30, 2022</div>
<div class="t" style="left:960.40px;width:300px;text-align:center;top:541.24px;font-size:10px;color:#222;font-weight:bold;">May 2, 2022 - May 31, 2022</div>
<div class="t" style="left:948.80px;width:300px;text-align:center;top:398.31px;font-size:6.6px;color:#fff;font-weight:normal;">6.2%</div>
<div class="t" style="left:971.00px;width:300px;text-align:center;top:513.91px;font-size:6.6px;color:#fff;font-weight:normal;">93.8%</div>

</body></html>
